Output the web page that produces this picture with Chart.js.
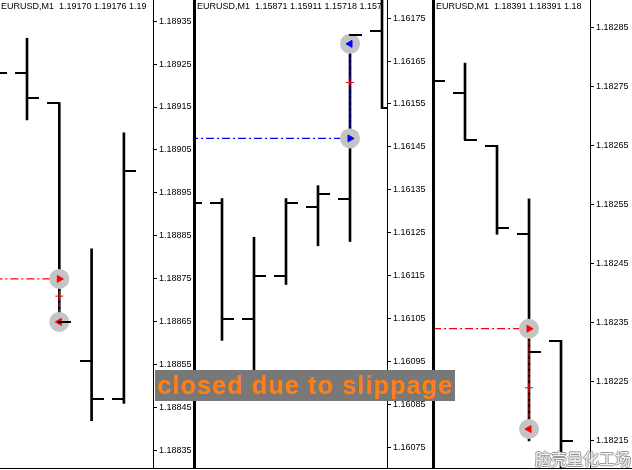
<!DOCTYPE html>
<html>
<head>
<meta charset="utf-8">
<script src="https://cdn.jsdelivr.net/npm/chart.js@4/dist/chart.umd.min.js"></script>
<style>
  body { margin: 0; background: #fff; }
  #wrap { position: relative; width: 632px; height: 470px; overflow: hidden; background: #fff; }
  canvas { position: absolute; top: 0; }
  .sep { position: absolute; top: 0; width: 3px; height: 469px; background: #000; }
  #bottom { position: absolute; left: 0; top: 468px; width: 632px; height: 1px; background: #000; }
  #note {
    position: absolute; left: 155px; top: 370px; width: 300px; height: 31px;
    background: #787878; color: #ff7f11; font: bold 25px "Liberation Sans", Arial, sans-serif;
    line-height: 31px; letter-spacing: 1.2px; padding-left: 2px; box-sizing: border-box; white-space: nowrap;
  }
  #mark {
    position: absolute; left: 535px; top: 446px; font: 16px "Noto Sans CJK SC", sans-serif;
    color: rgba(255,255,255,0.9);
    text-shadow: -1px 0 #9a9a9a, 1px 0 #9a9a9a, 0 -1px #9a9a9a, 0 1px #9a9a9a;
  }
</style>
</head>
<body>
<div id="wrap">
  <canvas id="c1" width="193" height="470" style="left:0"></canvas>
  <canvas id="c2" width="236" height="470" style="left:196px"></canvas>
  <canvas id="c3" width="197" height="470" style="left:435px"></canvas>
  <div class="sep" style="left:193px"></div>
  <div class="sep" style="left:432px"></div>
  <div id="bottom"></div>
  <div id="note">closed due to slippage</div>
  <div id="mark">脑壳量化工场</div>
</div>
<script>
// panel 1
const p1Header = 'EURUSD,M1  1.19170 1.19176 1.19';
const p1Open  = [1.18927, 1.18923, 1.18916, 1.18856, 1.18847];
const p1High  = [1.18930, 1.18931, 1.18916, 1.18882, 1.18909];
const p1Low   = [1.18920, 1.18912, 1.18864, 1.18842, 1.18846];
const p1Close = [1.18923, 1.18917, 1.18865, 1.18847, 1.18900];
const p1Ticks = [1.18835, 1.18845, 1.18855, 1.18865, 1.18875, 1.18885, 1.18895, 1.18905, 1.18915, 1.18925, 1.18935];
const p1Trade = [2, 1.18875, 1.18865, 1.18871]; // bar, entry, exit, mark

// panel 2
const p2Header = 'EURUSD,M1  1.15871 1.15911 1.15718 1.157';
const p2Open  = [1.16125, 1.16132, 1.16105, 1.16115, 1.16131, 1.16133, 1.16172];
const p2High  = [1.16136, 1.16133, 1.16124, 1.16133, 1.16136, 1.16171, 1.16185];
const p2Low   = [1.16120, 1.16100, 1.16090, 1.16113, 1.16122, 1.16123, 1.16154];
const p2Close = [1.16132, 1.16105, 1.16115, 1.16132, 1.16134, 1.16171, 1.16154];
const p2Ticks = [1.16075, 1.16085, 1.16095, 1.16105, 1.16115, 1.16125, 1.16135, 1.16145, 1.16155, 1.16165, 1.16175];
const p2Trade = [5, 1.16147, 1.16169, 1.16160];

// panel 3
const p3Header = 'EURUSD,M1  1.18391 1.18391 1.18';
const p3Open  = [1.18280, 1.18274, 1.18265, 1.18250, 1.18232];
const p3High  = [1.18283, 1.18279, 1.18265, 1.18256, 1.18232];
const p3Low   = [1.18272, 1.18266, 1.18250, 1.18215, 1.18209];
const p3Close = [1.18276, 1.18266, 1.18251, 1.18230, 1.18215];
const p3Ticks = [1.18215, 1.18225, 1.18235, 1.18245, 1.18255, 1.18265, 1.18275, 1.18285];
const p3Trade = [3, 1.18234, 1.18217, 1.18224];

const smallFont = { family: "'Liberation Sans', Arial, sans-serif", size: 9 };

const ohlcTicks = {
  id: 'ohlcTicks',
  afterDatasetsDraw(chart, args, opts) {
    const { ctx, chartArea, scales: { x, y } } = chart;
    ctx.save();
    ctx.beginPath();
    ctx.rect(chartArea.left, chartArea.top, chartArea.width, chartArea.height);
    ctx.clip();
    ctx.strokeStyle = '#000';
    ctx.lineWidth = 2;
    opts.open.forEach((o, i) => {
      const px = Math.round(x.getPixelForValue(i));
      const yo = Math.round(y.getPixelForValue(o));
      const yc = Math.round(y.getPixelForValue(opts.close[i]));
      ctx.beginPath();
      ctx.moveTo(px - 12, yo); ctx.lineTo(px + 1, yo);
      ctx.moveTo(px - 1, yc); ctx.lineTo(px + 12, yc);
      ctx.stroke();
    });
    ctx.restore();
  }
};

const header = {
  id: 'header',
  beforeDatasetsDraw(chart, args, opts) {
    const { ctx, chartArea } = chart;
    ctx.save();
    ctx.beginPath();
    ctx.rect(chartArea.left, chartArea.top, chartArea.width, chartArea.height);
    ctx.clip();
    ctx.fillStyle = '#000';
    ctx.font = `${smallFont.size}px ${smallFont.family}`;
    ctx.textBaseline = 'middle';
    ctx.fillText(opts.text, chartArea.left + 1, 7);
    ctx.restore();
  }
};

function tradeSets(trade, color) {
  const [bar, entry, exit, mark] = trade;
  return [
    { type: 'scatter', data: [{ x: bar, y: entry }], pointStyle: 'triangle', rotation: 90,
      pointRadius: 4, backgroundColor: color, borderColor: color, borderWidth: 1, order: 0 },
    { type: 'scatter', data: [{ x: bar, y: exit }], pointStyle: 'triangle', rotation: -90,
      pointRadius: 4, backgroundColor: color, borderColor: color, borderWidth: 1, order: 0 },
    { type: 'scatter', data: [{ x: bar, y: mark }], pointStyle: 'cross',
      pointRadius: 4, borderColor: '#ff0000', borderWidth: 1, order: 1 },
    { type: 'scatter', data: [{ x: bar, y: entry }, { x: bar, y: exit }],
      pointRadius: 10, backgroundColor: '#c4c4c4', borderWidth: 0, order: 2 },
    { type: 'line', data: [{ x: -1, y: entry }, { x: bar, y: entry }], borderColor: color,
      borderWidth: 1.2, borderDash: [8, 3, 2, 3], pointRadius: 0, order: 3 },
    { type: 'line', data: [{ x: bar, y: entry }, { x: bar, y: exit }], borderColor: color,
      borderWidth: 1.2, borderDash: [4, 2], pointRadius: 0, order: 3 },
  ];
}

function makePanel(id, hdr, open, high, low, close, ticks, trade, color, xmin, xmax, ymin, ymax, axisWidth) {
  new Chart(document.getElementById(id), {
    type: 'bar',
    data: {
      datasets: [
        ...tradeSets(trade, color),
        {
          data: high.map((h, i) => ({ x: i, y: [low[i], h] })),
          backgroundColor: '#000',
          barThickness: 2,
          order: 4
        }
      ]
    },
    options: {
      responsive: false,
      animation: false,
      events: [],
      layout: { autoPadding: false, padding: { top: 0, bottom: 2, left: 0, right: 0 } },
      plugins: {
        legend: { display: false },
        tooltip: { enabled: false },
        ohlcTicks: { open, close },
        header: { text: hdr }
      },
      scales: {
        x: { type: 'linear', min: xmin, max: xmax, offset: false, display: false },
        y: {
          position: 'right',
          min: ymin,
          max: ymax,
          afterBuildTicks: s => { s.ticks = ticks.map(v => ({ value: v })); },
          afterFit: s => { s.width = axisWidth; s.paddingTop = 0; s.paddingBottom = 0; },
          grid: { drawOnChartArea: false, tickLength: 4, color: '#000' },
          border: { display: true, color: '#000', width: 1 },
          ticks: {
            color: '#000',
            font: smallFont,
            padding: 2,
            callback: v => v.toFixed(5)
          }
        }
      }
    },
    plugins: [ohlcTicks, header]
  });
}

makePanel('c1', p1Header, p1Open, p1High, p1Low, p1Close, p1Ticks, p1Trade, '#ff0000',
  0.164, 4.901, 1.188310, 1.189399, 40);
makePanel('c2', p2Header, p2Open, p2High, p2Low, p2Close, p2Ticks, p2Trade, '#0000ff',
  0.1875, 6.156, 1.160703, 1.161792, 45);
makePanel('c3', p3Header, p3Open, p3High, p3Low, p3Close, p3Ticks, p3Trade, '#ff0000',
  0.0625, 4.906, 1.182104, 1.182897, 42);
</script>
</body>
</html>
